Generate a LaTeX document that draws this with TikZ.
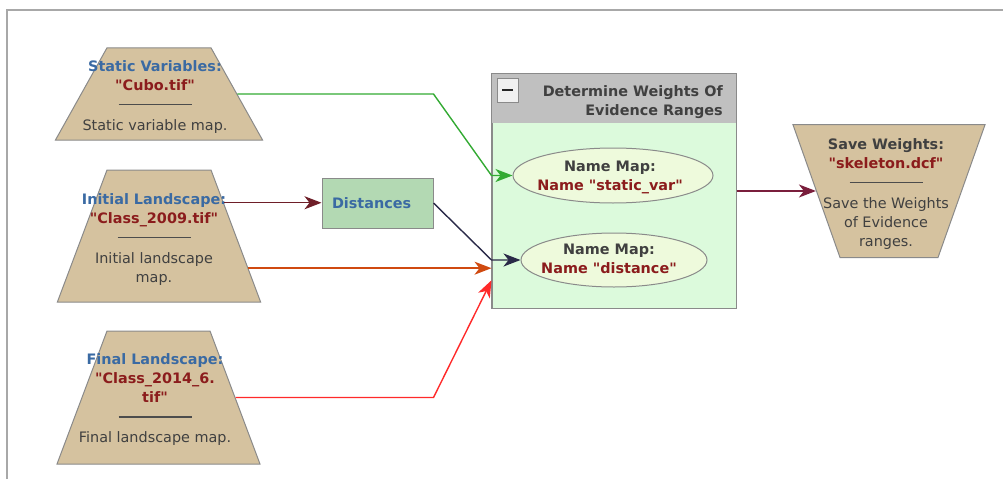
\documentclass[tikz,border=0pt]{standalone}
\usepackage{fontspec}
\setmainfont{DejaVu Sans}[Ligatures=TeXOff]
\usetikzlibrary{shapes.geometric,arrows.meta,calc}

\definecolor{frameline}{HTML}{A8A8A8}
\definecolor{tanfill}{HTML}{D5C29F}
\definecolor{shapeline}{HTML}{8A8A8A}
\definecolor{titleblue}{HTML}{3A6AA3}
\definecolor{fname}{HTML}{8B1C1C}
\definecolor{bodygray}{HTML}{404040}
\definecolor{distfill}{HTML}{B3D9B3}
\definecolor{groupfill}{HTML}{DCFADC}
\definecolor{headgray}{HTML}{C0C0C0}
\definecolor{ellfill}{HTML}{EEFADC}
\definecolor{cgreen}{HTML}{33AA33}
\definecolor{cmaroon}{HTML}{6E1E28}
\definecolor{cnavy}{HTML}{2A2A48}
\definecolor{corange}{HTML}{D04A10}
\definecolor{cred}{HTML}{FF2A2A}
\definecolor{cout}{HTML}{7A1E3C}

\newcommand\vfont{\fontsize{14.4}{19}\selectfont}
\newcommand\vtitle[1]{{\bfseries\color{titleblue}#1}}
\newcommand\vfile[1]{{\bfseries\color{fname}#1}}
\newcommand\vsep{\\[-4pt]{\color{black!70}\rule{73pt}{1.2pt}}\\[6pt]}

\begin{document}
\begin{tikzpicture}[x=1pt,y=-1pt,
  src/.style={trapezium, draw=shapeline, fill=tanfill, line width=1pt},
  txt/.style={align=center, inner sep=0pt, anchor=north, text=bodygray, font=\vfont},
  wire/.style={line width=1.4pt, -{Stealth[length=17pt,width=13pt,inset=5pt]}},
  ell/.style={ellipse, draw=shapeline, fill=ellfill, line width=1pt, inner sep=0pt},
]
\useasboundingbox (0,0) rectangle (1003,479);

% outer frame
\draw[frameline, line width=1.6pt] (7,479) -- (7,10) -- (1003,10);

% input maps (body = upper side, slanted sides widen downwards)
\node[src, trapezium angle=60.8, inner xsep=52pt, inner ysep=46.2pt] (s1) at (159,94) {};
\node[txt] (t1) at (155,60.1) {\vtitle{Static Variables:}\\\vfile{"Cubo.tif"}\vsep Static variable map.};

\node[src, trapezium angle=69.4, inner xsep=52pt, inner ysep=66pt] (s2) at (159,236) {};
\node[txt] (t2) at (154,193.1) {\vtitle{Initial Landscape:}\\\vfile{"Class\_2009.tif"}\vsep Initial landscape\\map.};

\node[src, trapezium angle=69.4, inner xsep=51.5pt, inner ysep=66.5pt] (s3) at (158.5,397.5) {};
\node[txt] (t3) at (155,353.4) {\vtitle{Final Landscape:}\\\vfile{"Class\_2014\_6.}\\\vfile{tif"}\vsep Final landscape map.};

% distance calculation
\node[draw=shapeline, fill=distfill, line width=1pt, inner xsep=10pt, text width=91pt,
  minimum height=50pt, align=left, text=titleblue, font=\vfont\bfseries]
  (dist) at (377.5,203) {Distances};

% group container
\node[draw=shapeline, fill=groupfill, line width=1pt, minimum width=244pt, minimum height=234pt,
  inner sep=0pt] (box) at (614,191) {};
\fill[headgray] (box.north west) rectangle ($(box.north east)+(0,49)$);
\draw[shapeline, line width=1pt] (box.north west) rectangle (box.south east);
\node[draw=shapeline, fill=white!88!gray, line width=0.8pt, minimum width=21pt,
  minimum height=24pt, inner sep=0pt] (btn) at (507.5,90) {};
\fill[black!85] ($(btn.center)+(-5.5,-1.4)$) rectangle ($(btn.center)+(5.5,1.4)$);
\node[txt, anchor=north east, align=right, font=\vfont\bfseries]
  (head) at (723,85.7) {Determine Weights Of\\Evidence Ranges};

\node[ell, minimum width=200pt, minimum height=55pt] (e1) at (613,175.5) {};
\node[txt, font=\vfont\bfseries] (n1) at (610,160.7)
  {Name Map:\\{\color{fname}Name "static\_var"}};
\node[ell, minimum width=186pt, minimum height=54pt] (e2) at (614,260) {};
\node[txt, font=\vfont\bfseries] (n2) at (609,244.1)
  {Name Map:\\{\color{fname}Name "distance"}};

% output (narrow side turned to the bottom)
\node[src, trapezium angle=70.5, shape border rotate=180, inner xsep=49pt, inner ysep=66.5pt]
  (save) at (889,191) {};
\node[txt] (t4) at (886,138.1) {{\bfseries Save Weights:}\\\vfile{"skeleton.dcf"}\vsep Save the Weights\\of Evidence\\ranges.};

% connectors
\coordinate (p2a) at ($(s2.top right corner)!0.25!(s2.bottom right corner)$);
\coordinate (p2b) at ($(s2.top right corner)!0.742!(s2.bottom right corner)$);
\coordinate (pin) at ($(box.north west)!0.88!(box.south west)$);

\draw[wire, cgreen] (s1.east) -- (s1.east -| dist.east) -- (e1.west -| box.west) -- (e1.west);
\draw[wire, cmaroon] (p2a) -- (p2a -| dist.west);
\draw[wire, cnavy] (dist.east) -- (e2.west -| box.west) -- (e2.west);
\draw[wire, corange] (p2b) -- (p2b -| box.west);
\draw[wire, cred] (s3.east) -- (s3.east -| dist.east) -- (pin);
\draw[wire, cout] (box.east) -- (save);
\end{tikzpicture}
\end{document}
